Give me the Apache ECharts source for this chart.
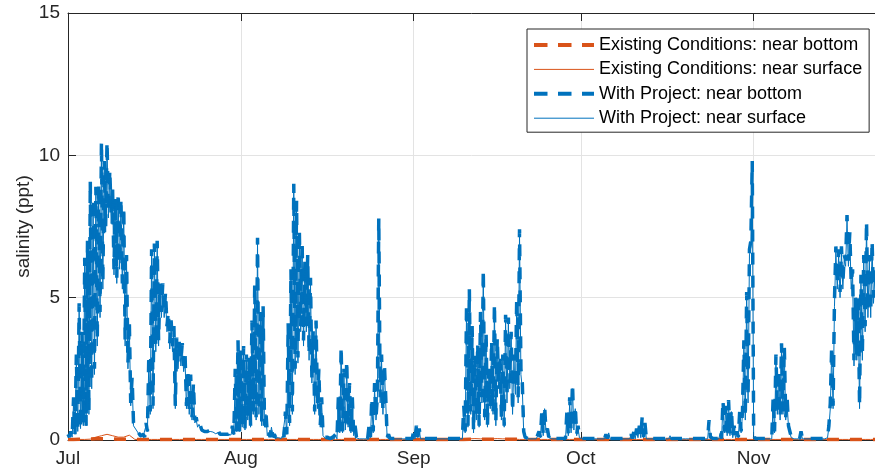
<!DOCTYPE html>
<html>
<head>
<meta charset="utf-8">
<title>Salinity</title>
<script src="https://cdn.jsdelivr.net/npm/echarts@6/dist/echarts.min.js"></script>
<style>
  html, body { margin: 0; padding: 0; background: #fff; }
  #chart { width: 875px; height: 474px; }
</style>
</head>
<body>
<div id="chart"></div>
<script>
// Month tick labels
const monthLabels = ['Jan', 'Feb', 'Mar', 'Apr', 'May', 'Jun', 'Jul', 'Aug', 'Sep', 'Oct', 'Nov', 'Dec'];

// Series names
const seriesNames = [
  'Existing Conditions: near bottom',
  'Existing Conditions: near surface',
  'With Project: near bottom',
  'With Project: near surface'
];

// Daily salinity (ppt), existing conditions, starting 1 July
const existingBottom = [
  0.02,0.02,0.03,0.03,0.03,0.04,0.04,0.04,0.04,0.03,0.03,0.03,0.02,0.02,0.02,0.02,
  0.02,0.02,0.02,0.02,0.02,0.02,0.02,0.02,0.02,0.02,0.02,0.02,0.02,0.02,0.02,0.02,
  0.02,0.02,0.02,0.02,0.02,0.02,0.02,0.02,0.02,0.02,0.02,0.02,0.02,0.02,0.02,0.02,
  0.02,0.02,0.02,0.02,0.02,0.02,0.02,0.02,0.02,0.02,0.02,0.02,0.02,0.02,0.02,0.02,
  0.02,0.02,0.02,0.02,0.02,0.02,0.02,0.02,0.03,0.03,0.03,0.03,0.03,0.03,0.03,0.03,
  0.03,0.02,0.02,0.02,0.02,0.02,0.02,0.02,0.02,0.02,0.02,0.02,0.02,0.02,0.02,0.02,
  0.02,0.02,0.02,0.02,0.02,0.02,0.02,0.02,0.02,0.02,0.02,0.02,0.02,0.02,0.02,0.02,
  0.02,0.02,0.02,0.02,0.02,0.02,0.02,0.02,0.02,0.02,0.02,0.02,0.02,0.02,0.02,0.02,
  0.02,0.02,0.02,0.02,0.02,0.02,0.02,0.02,0.02,0.02,0.02,0.02,0.02,0.02,0.02,0.02,
  0.02,0.02
];
const existingSurface = [
  0.02,0.02,0.02,0.02,0.03,0.10,0.15,0.20,0.15,0.10,0.10,0.17,0.02,0.02,0.02,0.02,
  0.02,0.02,0.02,0.02,0.02,0.02,0.02,0.02,0.02,0.02,0.02,0.02,0.02,0.02,0.02,0.02,
  0.02,0.02,0.02,0.02,0.02,0.02,0.02,0.02,0.02,0.02,0.02,0.02,0.02,0.02,0.02,0.02,
  0.02,0.02,0.02,0.02,0.02,0.02,0.02,0.02,0.02,0.02,0.02,0.02,0.02,0.02,0.02,0.02,
  0.02,0.02,0.02,0.02,0.02,0.02,0.02,0.02,0.04,0.05,0.04,0.05,0.04,0.05,0.04,0.04,
  0.03,0.02,0.02,0.02,0.02,0.02,0.02,0.02,0.02,0.02,0.02,0.02,0.02,0.02,0.02,0.02,
  0.02,0.02,0.02,0.02,0.02,0.02,0.02,0.02,0.02,0.02,0.02,0.02,0.02,0.02,0.02,0.02,
  0.02,0.02,0.02,0.02,0.02,0.02,0.02,0.02,0.02,0.02,0.02,0.02,0.02,0.02,0.02,0.02,
  0.02,0.02,0.02,0.02,0.02,0.02,0.02,0.02,0.02,0.02,0.02,0.02,0.02,0.02,0.02,0.02,
  0.02,0.02
];

// Six-hourly salinity (ppt) with the project, four values per day from 1 July
const projectBottom = [
  0.2,0.1,0.3,0.1,  1.5,0.2,3.0,0.3,  4.8,0.4,3.8,0.6,  6.4,0.5,7.0,1.0,
  9.1,2.0,8.5,2.5,  8.9,3.5,9.0,4.5,  10.5,5.5,9.8,7.5,  10.5,8.0,9.5,7.8,
  8.8,6.0,8.5,5.7,  8.7,6.2,8.5,5.5,  8.2,3.5,6.5,2.7,  4.2,1.3,2.2,0.6,
  0.5,0.4,0.3,0.25,  0.15,0.1,0.2,0.1,  0.6,0.3,3.0,1.0,  6.7,1.2,6.9,3.3,
  7.0,3.5,5.5,4.5,  5.5,4.5,5.2,4.0,  4.5,3.4,4.2,3.3,  4.0,1.2,3.6,2.7,
  3.6,2.8,3.4,2.6,  3.0,1.2,2.5,1.0,  2.3,0.8,2.0,0.7,  0.8,0.5,0.6,0.5,
  0.35,0.3,0.3,0.25,  0.3,0.25,0.35,0.3,  0.3,0.3,0.25,0.25,  0.3,0.2,0.25,0.2,
  0.2,0.2,0.25,0.2,  0.3,0.2,0.5,0.2,  2.5,0.3,3.5,0.3,
  3.2,0.5,3.3,0.4,  3.0,0.8,2.9,0.5,  4.2,1.0,5.5,0.8,  7.1,1.0,4.5,0.6,
  4.7,0.5,1.0,0.2,  0.3,0.1,0.5,0.1,  0.2,0.1,0.1,0.1,  0.1,0.05,0.2,0.1,
  1.0,0.2,4.1,0.6,  6.0,1.0,9.0,2.5,  8.4,2.9,7.4,4.0,  7.0,3.5,6.3,4.0,
  6.5,3.0,5.7,2.2,  3.9,1.0,4.2,1.2,  2.5,0.5,1.5,0.2,  0.1,0.05,0.1,0.05,
  0.05,0.05,0.1,0.05,  0.2,0.05,1.5,0.3,  3.3,0.3,2.5,0.4,  2.8,0.5,2.0,0.3,
  1.5,0.2,0.5,0.1,  0.05,0.05,0.05,0.05,  0.05,0.05,0.1,0.05,  0.5,0.1,1.5,0.3,
  2.0,0.8,1.5,7.8,  1.5,3.0,1.0,2.7,  1.5,0.1,0.2,0.05,  0.05,0.05,0.05,0.05,
  0.05,0.05,0.05,0.05,  0.05,0.05,0.05,0.05,  0.05,0.05,0.05,0.05,
  0.3,0.05,0.5,0.1,  0.4,0.05,0.05,0.05,  0.05,0.05,0.05,0.05,  0.05,0.05,0.05,0.05,
  0.05,0.05,0.05,0.05,  0.05,0.05,0.05,0.05,  0.05,0.05,0.05,0.05,  0.05,0.05,0.05,0.05,
  0.05,0.05,0.05,0.05,  1.2,0.3,4.8,0.5,  5.3,1.0,4.0,0.3,  3.0,0.8,3.4,0.5,
  4.5,1.5,6.0,0.8,  3.8,0.5,2.5,1.2,  3.5,1.0,4.8,0.6,  3.6,2.0,3.0,0.8,
  3.0,0.5,4.4,1.5,  4.3,2.0,3.8,1.0,  3.0,1.8,5.0,1.5,  7.4,2.5,2.0,0.3,
  0.1,0.05,0.05,0.05,  0.05,0.05,0.05,0.05,  0.05,0.05,0.3,0.1,  1.0,0.2,1.2,0.3,
  0.4,0.1,0.2,0.05,  0.05,0.05,0.05,0.05,  0.05,0.05,0.05,0.05,  0.1,0.05,1.0,0.2,
  1.5,0.3,2.0,0.4,  1.2,0.2,0.5,0.1,
  0.05,0.05,0.05,0.05,  0.05,0.05,0.05,0.05,  0.05,0.05,0.05,0.05,  0.05,0.05,0.05,0.05,
  0.05,0.05,0.2,0.05,  0.3,0.05,0.05,0.05,  0.05,0.05,0.05,0.05,  0.05,0.05,0.05,0.05,
  0.05,0.05,0.05,0.05,  0.2,0.05,0.3,0.05,  0.4,0.1,0.5,0.1,  0.8,0.1,0.6,0.05,
  0.05,0.05,0.05,0.05,  0.05,0.05,0.05,0.05,  0.05,0.05,0.05,0.05,  0.05,0.05,0.05,0.05,
  0.2,0.05,0.05,0.05,  0.05,0.05,0.05,0.05,  0.05,0.05,0.05,0.05,  0.05,0.05,0.05,0.05,
  0.05,0.05,0.05,0.05,  0.05,0.05,0.05,0.05,  0.05,0.05,0.05,0.05,  0.7,0.1,0.05,0.05,
  0.05,0.05,0.05,0.05,  0.3,0.05,1.4,0.3,  1.2,0.2,1.4,0.2,  1.1,0.1,0.5,0.1,
  0.3,0.1,1.0,0.3,  1.0,3.5,0.8,5.2,  1.5,6.7,7.0,9.8,
  0.2,0.05,0.05,0.05,  0.05,0.05,0.05,0.05,  0.05,0.05,0.05,0.05,  0.1,0.05,1.5,0.3,
  3.0,1.0,2.5,0.8,  3.4,1.0,3.3,0.8,  1.5,0.5,0.3,0.1,  0.05,0.05,0.05,0.05,
  0.05,0.05,0.3,0.05,  0.05,0.05,0.05,0.05,  0.05,0.05,0.05,0.05,  0.05,0.05,0.05,0.05,
  0.05,0.05,0.05,0.05,  0.05,0.1,0.5,1.3,  3.3,1.2,4.9,6.8,  5.5,6.7,5.2,6.8,
  5.5,6.5,6.3,7.9,  6.3,7.3,5.5,6.0,  2.8,5.0,3.0,5.0,  1.2,5.8,3.0,6.5,
  4.0,7.7,4.5,6.5,  4.5,7.0,5.0,6.0,  5.5,4.5,6.0,5.0
];
const projectSurface = [
  0.15,0.1,0.25,0.1,  1.3,0.2,2.8,0.3,  4.6,0.4,3.6,0.5,  6.2,0.5,6.8,0.9,
  8.9,1.8,8.3,2.3,  8.7,3.3,8.8,4.3,  10.3,5.3,9.6,7.3,  10.3,7.8,9.3,7.6,
  8.6,5.8,8.3,5.5,  8.5,6.0,8.3,5.3,  8.0,3.3,6.3,2.5,  4.0,1.2,2.0,0.5,
  0.45,0.35,0.3,0.2,  0.1,0.1,0.15,0.1,  0.5,0.3,2.8,0.9,  6.5,1.1,6.7,3.1,
  6.8,3.3,5.3,4.3,  5.3,4.3,5.0,3.8,  4.3,3.2,4.0,3.1,  3.8,1.1,3.4,2.5,
  3.4,2.6,3.2,2.4,  2.8,1.1,2.3,0.9,  2.1,0.7,1.8,0.6,  0.7,0.45,0.55,0.45,
  0.3,0.28,0.28,0.22,  0.28,0.22,0.3,0.28,  0.28,0.27,0.22,0.22,  0.27,0.18,0.22,0.18,
  0.18,0.18,0.22,0.18,  0.25,0.18,0.45,0.18,  2.3,0.3,3.3,0.3,
  3.0,0.45,3.1,0.35,  2.8,0.7,2.7,0.45,  4.0,0.9,5.3,0.7,  6.9,0.9,4.3,0.5,
  4.5,0.45,0.9,0.15,  0.25,0.1,0.45,0.1,  0.15,0.08,0.1,0.08,  0.08,0.05,0.15,0.08,
  0.9,0.2,3.9,0.5,  5.8,0.9,8.8,2.3,  8.2,2.7,7.2,3.8,  6.8,3.3,6.1,3.8,
  6.3,2.8,5.5,2.0,  3.7,0.9,4.0,1.1,  2.3,0.45,1.3,0.15,  0.08,0.04,0.08,0.04,
  0.04,0.04,0.08,0.04,  0.15,0.04,1.3,0.25,  3.1,0.25,2.3,0.35,  2.6,0.45,1.8,0.25,
  1.3,0.15,0.4,0.08,  0.04,0.04,0.04,0.04,  0.04,0.04,0.08,0.04,  0.4,0.08,1.3,0.25,
  1.8,0.7,1.3,7.6,  1.3,2.8,0.9,2.5,  1.3,0.08,0.15,0.04,  0.04,0.04,0.04,0.04,
  0.04,0.04,0.04,0.04,  0.04,0.04,0.04,0.04,  0.04,0.04,0.04,0.04,
  0.25,0.04,0.45,0.08,  0.35,0.04,0.04,0.04,  0.04,0.04,0.04,0.04,  0.04,0.04,0.04,0.04,
  0.04,0.04,0.04,0.04,  0.04,0.04,0.04,0.04,  0.04,0.04,0.04,0.04,  0.04,0.04,0.04,0.04,
  0.04,0.04,0.04,0.04,  1.1,0.25,4.6,0.45,  5.1,0.9,3.8,0.25,  2.8,0.7,3.2,0.45,
  4.3,1.3,5.8,0.7,  3.6,0.45,2.3,1.1,  3.3,0.9,4.6,0.5,  3.4,1.8,2.8,0.7,
  2.8,0.45,4.2,1.3,  4.1,1.8,3.6,0.9,  2.8,1.6,4.8,1.3,  7.2,2.3,1.8,0.25,
  0.08,0.04,0.04,0.04,  0.04,0.04,0.04,0.04,  0.04,0.04,0.25,0.08,  0.9,0.15,1.1,0.25,
  0.35,0.08,0.15,0.04,  0.04,0.04,0.04,0.04,  0.04,0.04,0.04,0.04,  0.08,0.04,0.9,0.15,
  1.3,0.25,1.8,0.35,  1.1,0.15,0.4,0.08,
  0.04,0.04,0.04,0.04,  0.04,0.04,0.04,0.04,  0.04,0.04,0.04,0.04,  0.04,0.04,0.04,0.04,
  0.04,0.04,0.15,0.04,  0.25,0.04,0.04,0.04,  0.04,0.04,0.04,0.04,  0.04,0.04,0.04,0.04,
  0.04,0.04,0.04,0.04,  0.15,0.04,0.25,0.04,  0.35,0.08,0.45,0.08,  0.7,0.08,0.5,0.04,
  0.04,0.04,0.04,0.04,  0.04,0.04,0.04,0.04,  0.04,0.04,0.04,0.04,  0.04,0.04,0.04,0.04,
  0.15,0.04,0.04,0.04,  0.04,0.04,0.04,0.04,  0.04,0.04,0.04,0.04,  0.04,0.04,0.04,0.04,
  0.04,0.04,0.04,0.04,  0.04,0.04,0.04,0.04,  0.04,0.04,0.04,0.04,  0.6,0.08,0.04,0.04,
  0.04,0.04,0.04,0.04,  0.25,0.04,1.3,0.25,  1.1,0.15,1.3,0.15,  1.0,0.08,0.45,0.08,
  0.25,0.08,0.9,0.25,  0.9,3.3,0.7,5.0,  1.3,6.5,6.8,9.6,
  0.15,0.04,0.04,0.04,  0.04,0.04,0.04,0.04,  0.04,0.04,0.04,0.04,  0.08,0.04,1.3,0.25,
  2.8,0.9,2.3,0.7,  3.2,0.9,3.1,0.7,  1.3,0.45,0.25,0.08,  0.04,0.04,0.04,0.04,
  0.04,0.04,0.25,0.04,  0.04,0.04,0.04,0.04,  0.04,0.04,0.04,0.04,  0.04,0.04,0.04,0.04,
  0.04,0.04,0.04,0.04,  0.04,0.08,0.45,1.1,  3.1,1.1,4.7,6.6,  5.3,6.5,5.0,6.6,
  5.3,6.3,6.1,7.7,  6.1,7.1,5.3,5.8,  2.6,4.8,2.8,4.8,  1.1,5.6,2.8,6.3,
  3.8,7.5,4.3,6.3,  4.3,6.8,4.8,5.8,  5.3,4.3,5.8,4.8
];

const DAY = 86400000;
const START = Date.UTC(2019, 6, 1);
const END = START + 144.77 * DAY;

// Pair each value with its timestamp, given the number of values per day
function timeSeries(values, perDay) {
  return values.map((v, i) => [START + i * DAY / perDay, v]);
}

const ORANGE = '#D95319';
const BLUE = '#0072BD';
const AXIS = '#262626';
const GRID = '#e3e3e3';
const FONT = '"Liberation Sans", Arial, Helvetica, sans-serif';
const DASH = [12, 11];
const LEGEND_DASH = [13.5, 10.5];

const chart = echarts.init(document.getElementById('chart'), null, { renderer: 'canvas' });

chart.setOption({
  animation: false,
  useUTC: true,
  backgroundColor: '#ffffff',
  grid: { left: 68, right: -1, top: 13, bottom: 34, containLabel: false },
  legend: {
    orient: 'vertical',
    left: 527,
    top: 29,
    padding: [7, 7, 5, 5],
    itemWidth: 60,
    itemHeight: 18,
    itemGap: 6.4,
    backgroundColor: '#ffffff',
    borderColor: AXIS,
    borderWidth: 1,
    selectedMode: false,
    // line-only keys: the marker drawn on each key is made invisible
    itemStyle: { color: 'rgba(0,0,0,0)', borderWidth: 0, opacity: 0 },
    textStyle: { fontFamily: FONT, fontSize: 18, color: '#000000', lineHeight: 18 },
    data: [
      { name: seriesNames[0], lineStyle: { width: 4, type: LEGEND_DASH } },
      { name: seriesNames[1], lineStyle: { width: 1 } },
      { name: seriesNames[2], lineStyle: { width: 4, type: LEGEND_DASH } },
      { name: seriesNames[3], lineStyle: { width: 1 } }
    ]
  },
  xAxis: [
    {
      type: 'time',
      min: START,
      max: END,
      splitNumber: 5,
      minInterval: 28 * DAY,
      maxInterval: 31 * DAY,
      axisLine: { show: true, lineStyle: { color: AXIS, width: 1 } },
      axisTick: { show: true, inside: true, length: 8, lineStyle: { color: AXIS } },
      axisLabel: {
        show: true,
        margin: 9,
        fontFamily: FONT,
        fontSize: 19,
        color: AXIS,
        hideOverlap: false,
        formatter: (value) => monthLabels[new Date(value).getUTCMonth()]
      },
      splitLine: { show: true, lineStyle: { color: GRID, width: 1 } },
      minorTick: { show: false }
    },
    {
      type: 'time',
      position: 'top',
      min: START,
      max: END,
      splitNumber: 5,
      minInterval: 28 * DAY,
      maxInterval: 31 * DAY,
      axisLine: { show: true, lineStyle: { color: AXIS, width: 1 } },
      axisTick: { show: true, inside: true, length: 8, lineStyle: { color: AXIS } },
      axisLabel: { show: false },
      splitLine: { show: false }
    }
  ],
  yAxis: {
    type: 'value',
    min: 0,
    max: 15,
    interval: 5,
    name: 'salinity (ppt)',
    nameLocation: 'middle',
    nameRotate: 90,
    nameGap: 35,
    nameMoveOverlap: false,
    nameTextStyle: { fontFamily: FONT, fontSize: 19, color: AXIS },
    axisLine: { show: true, lineStyle: { color: AXIS, width: 1 } },
    axisTick: { show: true, inside: true, length: 8, lineStyle: { color: AXIS } },
    axisLabel: { margin: 8, fontFamily: FONT, fontSize: 19, color: AXIS },
    splitLine: { show: true, lineStyle: { color: GRID, width: 1 } }
  },
  series: [
    {
      name: seriesNames[0],
      type: 'line',
      xAxisIndex: 0,
      data: timeSeries(existingBottom, 1),
      symbol: 'none',
      clip: true,
      color: ORANGE,
      lineStyle: { color: ORANGE, width: 3.5, type: DASH, cap: 'butt' },
      z: 2
    },
    {
      name: seriesNames[1],
      type: 'line',
      xAxisIndex: 0,
      data: timeSeries(existingSurface, 1),
      symbol: 'none',
      clip: true,
      color: ORANGE,
      lineStyle: { color: ORANGE, width: 1 },
      z: 3
    },
    {
      name: seriesNames[2],
      type: 'line',
      xAxisIndex: 0,
      data: timeSeries(projectBottom, 4),
      symbol: 'none',
      clip: true,
      color: BLUE,
      lineStyle: { color: BLUE, width: 3.5, type: DASH, cap: 'butt' },
      z: 4
    },
    {
      name: seriesNames[3],
      type: 'line',
      xAxisIndex: 0,
      data: timeSeries(projectSurface, 4),
      symbol: 'none',
      clip: true,
      color: BLUE,
      lineStyle: { color: BLUE, width: 1 },
      z: 5
    }
  ]
});
</script>
</body>
</html>
